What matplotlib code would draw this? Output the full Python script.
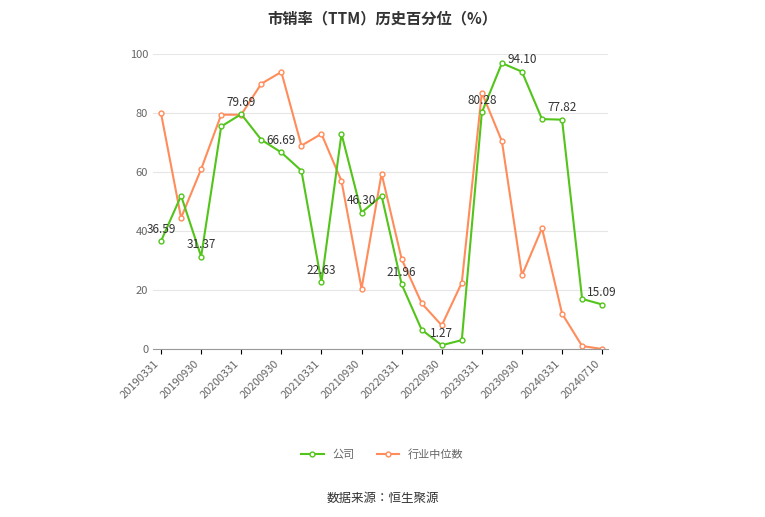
import matplotlib.pyplot as plt

plt.rcParams['font.family'] = ['Noto Sans CJK JP', 'Noto Sans CJK SC', 'Noto Sans CJK TC',
                               'Noto Sans CJK KR', 'DejaVu Sans']

dates = ['20190331', '20190630', '20190930', '20191231', '20200331', '20200630', '20200930',
         '20201231', '20210331', '20210630', '20210930', '20211231', '20220331', '20220630',
         '20220930', '20221231', '20230331', '20230630', '20230930', '20231231', '20240331',
         '20240630', '20240710']
company = [36.59, 52.0, 31.37, 75.5, 79.69, 71.0, 66.69, 60.5, 22.63, 73.0, 46.30, 52.0,
           21.96, 6.5, 1.27, 3.0, 80.28, 97.0, 94.10, 78.0, 77.82, 17.0, 15.09]
industry = [80.0, 44.5, 61.0, 79.5, 79.5, 90.0, 94.0, 69.0, 73.0, 57.0, 20.5, 59.5,
            30.5, 15.5, 8.0, 22.5, 87.0, 70.5, 25.0, 41.0, 12.0, 1.0, 0.0]
labeled = {0: '36.59', 2: '31.37', 4: '79.69', 6: '66.69', 8: '22.63', 10: '46.30',
           12: '21.96', 14: '1.27', 16: '80.28', 18: '94.10', 20: '77.82', 22: '15.09'}

fig = plt.figure(figsize=(7.65, 5.17), dpi=100)
ax = fig.add_axes([0.2, 0.325, 0.595, 0.57])
x = range(len(dates))
ax.plot(x, company, color='#52c41a', marker='o', markersize=3.5, markerfacecolor='white',
        linewidth=1.5, label='公司', zorder=3)
ax.plot(x, industry, color='#ff8c5a', marker='o', markersize=3.5, markerfacecolor='white',
        linewidth=1.5, label='行业中位数', zorder=2)
for i, t in labeled.items():
    ax.annotate(t, (i, company[i]), xytext=(0, 4), textcoords='offset points',
                ha='center', va='bottom', fontsize=8.5, color='#333333')

ax.set_ylim(0, 100)
ax.set_xlim(-0.4, len(dates) - 0.7)
ax.set_yticks(range(0, 101, 20))
ax.set_xticks(list(range(0, len(dates) - 1, 2)) + [len(dates) - 1])
ax.set_xticklabels([dates[i] for i in range(0, len(dates) - 1, 2)] + [dates[-1]],
                   rotation=45, ha='right', fontsize=8, color='#666666')
ax.tick_params(axis='y', labelsize=8, colors='#666666', length=0)
ax.grid(axis='y', color='#e6e6e6', linewidth=0.8)
for s in ['top', 'right', 'left']:
    ax.spines[s].set_visible(False)
ax.spines['bottom'].set_color('#999999')

fig.text(0.5, 0.965, '市销率（TTM）历史百分位（%）', ha='center', va='center',
         fontsize=11, fontweight='bold', color='#333333')
fig.legend(loc='center', bbox_to_anchor=(0.5, 0.12), ncol=2, frameon=False, fontsize=8,
           labelcolor='#666666')
fig.text(0.5, 0.035, '数据来源：恒生聚源', ha='center', va='center', fontsize=9, color='#333333')
fig.savefig('out.png', dpi=100)
